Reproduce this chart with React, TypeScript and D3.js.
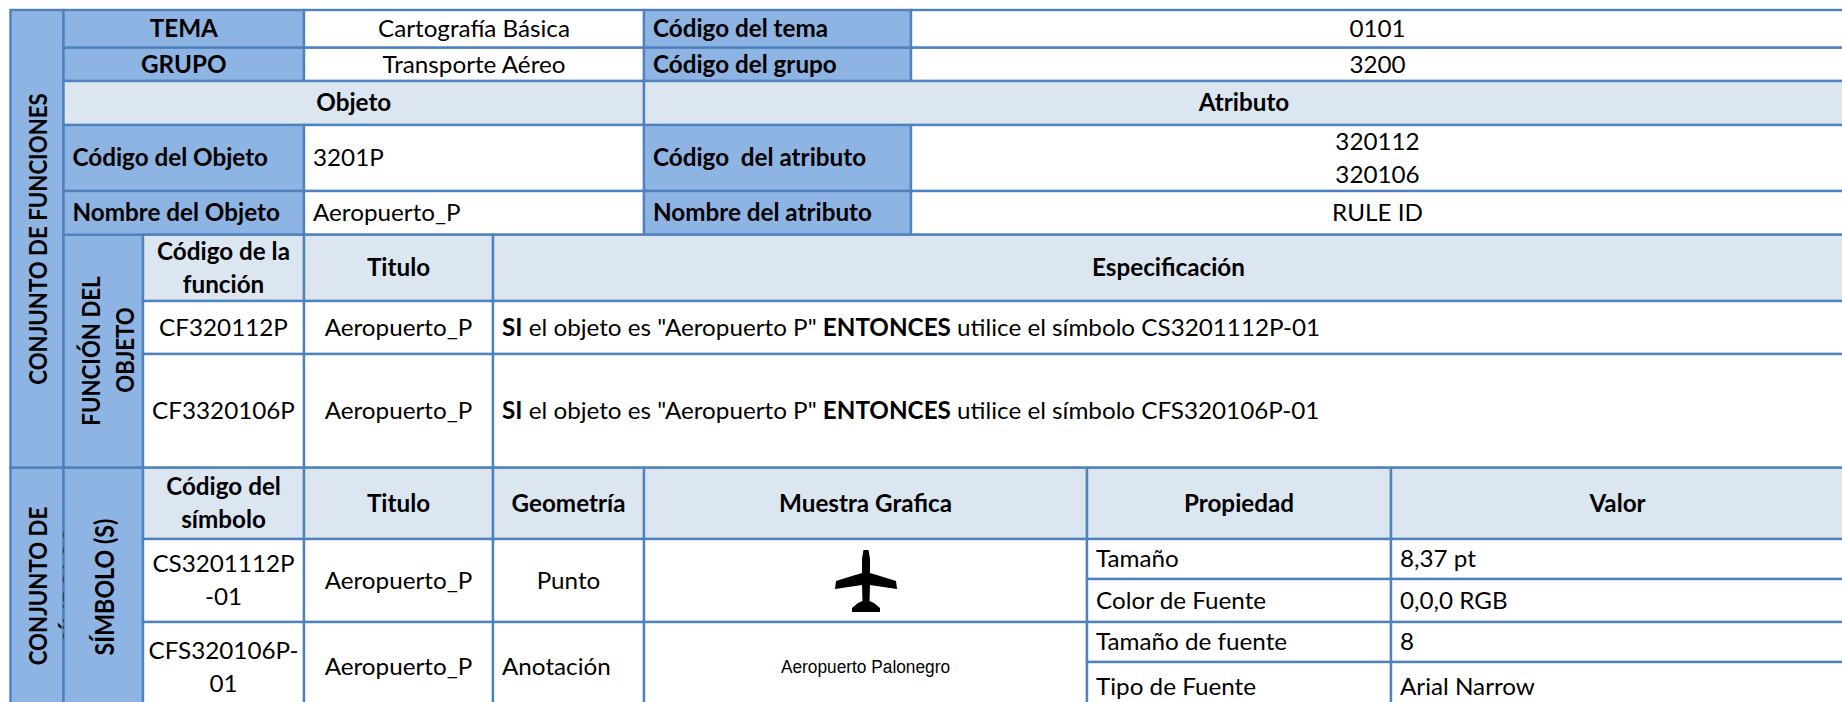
import React from "react";
import * as d3 from "d3";

const W = 1842, H = 702;
const BLUE = "#8EB4E3", LIGHT = "#DCE6F1", LINE = "#4F81BD";
const FONT = "Lato, Carlito, sans-serif";

// text content
const temaLabels = ["TEMA", "GRUPO"];
const temaValues = ["Cartografía Básica", "Transporte Aéreo"];
const codeLabels = ["Código del tema", "Código del grupo"];
const codeValues = ["0101", "3200"];
const sectionHeads = ["Objeto", "Atributo"];
const objectLabels = ["Código del Objeto", "Nombre del Objeto"];
const objectValues = ["3201P", "Aeropuerto_P"];
const attrLabels = ["Código  del atributo", "Nombre del atributo"];
const attrCodes = ["320112", "320106"];
const attrName = "RULE ID";
const funcHeads = [["Código de la", "función"], ["Titulo"], ["Especificación"]];
const funcCodes = ["CF320112P", "CF3320106P"];
const funcTitle = "Aeropuerto_P";
const funcSymbols = ["CS3201112P-01", "CFS320106P-01"];
const symHeads = [["Código del", "símbolo"], ["Titulo"], ["Geometría"], ["Muestra Grafica"], ["Propiedad"], ["Valor"]];
const symCodes = [["CS3201112P", "-01"], ["CFS320106P-", "01"]];
const symGeoms = ["Punto", "Anotación"];
const sampleLabel = "Aeropuerto Palonegro";
const propNames = ["Tamaño", "Color de Fuente", "Tamaño de fuente", "Tipo de Fuente"];
const propValues = ["8,37 pt", "0,0,0 RGB", "8", "Arial Narrow"];

// grid
const colKeys = ["a", "b", "c", "d", "e", "f", "g", "h", "i", "j"];
const colEdges = [10.5, 63.5, 143, 304, 493, 644, 911, 1087, 1391, W + 2];
const rowKeys = ["r0", "r1", "r2", "r3", "r4", "r5", "r6", "r7", "r8", "r9", "r10", "r11", "r12", "r13"];
const rowEdges = [10, 47.7, 81, 125, 191, 234.7, 301, 354, 467.7, 539, 579, 622, 662, 712];
const X = d3.scaleOrdinal<string, number>().domain(colKeys).range(colEdges);
const Y = d3.scaleOrdinal<string, number>().domain(rowKeys).range(rowEdges);
const LH = 33;
const SIZE = 24, SX = 1.01;

type T = { lines: string[]; bold?: boolean; align?: "c" | "l"; size?: number; fam?: string; sx?: number };

function Cell({ c0, c1, r0, r1, fill, t }: { c0: string; c1: string; r0: string; r1: string; fill?: string; t?: T }) {
  const x0 = X(c0), x1 = X(c1), y0 = Y(r0), y1 = Y(r1);
  const cy = (Math.min(y1, H + 40) + y0) / 2;
  const size = t?.size ?? SIZE;
  const sx = t?.sx ?? SX;
  const n = t?.lines.length ?? 0;
  const tx = t?.align === "l" ? x0 + 9 : (x0 + x1) / 2;
  return (
    <g>
      <rect x={x0} y={y0} width={x1 - x0} height={y1 - y0} fill={fill ?? "#fff"} stroke={LINE} strokeWidth={2.4} />
      {t?.lines.map((l, i) => (
        <text key={i} transform={`translate(${tx},${cy + (i - (n - 1) / 2) * LH + size * 0.34}) scale(${sx},1)`}
          textAnchor={t.align === "l" ? "start" : "middle"} fontFamily={t.fam ?? FONT} fontSize={size}
          fontWeight={t.bold ? 700 : 400} fill="#000" xmlSpace="preserve">{l}</text>
      ))}
    </g>
  );
}

function RunText({ x, y, parts }: { x: number; y: number; parts: [string, boolean][] }) {
  return (
    <text transform={`translate(${x},${y}) scale(${SX},1)`} fontFamily={FONT} fontSize={SIZE} fill="#000">
      {parts.map(([s, b], i) => <tspan key={i} fontWeight={b ? 700 : 400}>{s}</tspan>)}
    </text>
  );
}

function Vert({ x, y, text, size = 23 }: { x: number; y: number; text: string; size?: number }) {
  return (
    <text transform={`translate(${x},${y}) rotate(-90) scale(0.967,1.09)`} textAnchor="middle" dominantBaseline="central"
      fontFamily={FONT} fontSize={size} fontWeight={700} fill="#000">{text}</text>
  );
}

const planeLine = d3.line<[number, number]>().curve(d3.curveLinearClosed);
const planeShape: [number, number][] = [
  [-2.5, -31], [2.5, -31], [4, -22], [4, -8], [14, -5], [30, 0], [31, 8], [14, 5.5], [4, 4], [3.5, 20],
  [8, 22], [14, 27], [14, 31],
  [-14, 31], [-14, 27], [-8, 22], [-3.5, 20], [-4, 4], [-14, 5.5], [-31, 8], [-30, 0], [-14, -5], [-4, -8], [-4, -22],
];

export default function App() {
  const bl = (s: string): T => ({ lines: [s], bold: true });
  const bll = (s: string): T => ({ lines: [s], bold: true, align: "l" });
  const pl = (s: string): T => ({ lines: [s] });
  const ll = (s: string): T => ({ lines: [s], align: "l" });
  return (
    <svg width={W} height={H} style={{ position: "absolute", left: 0, top: 0 }}>
      <defs>
        <clipPath id="lowerLeft"><rect x={X("a")} y={Y("r8")} width={X("b") - X("a")} height={H} /></clipPath>
        <filter id="soft"><feGaussianBlur stdDeviation={0.7} /></filter>
      </defs>
      <rect width={W} height={H} fill="#fff" />

      <Cell c0="a" c1="b" r0="r0" r1="r8" fill={BLUE} />
      <Cell c0="a" c1="b" r0="r8" r1="r13" fill={BLUE} />
      <Cell c0="b" c1="c" r0="r5" r1="r8" fill={BLUE} />
      <Cell c0="b" c1="c" r0="r8" r1="r13" fill={BLUE} />

      {temaLabels.map((s, i) => (
        <g key={s}>
          <Cell c0="b" c1="d" r0={rowKeys[i]} r1={rowKeys[i + 1]} fill={BLUE} t={bl(s)} />
          <Cell c0="d" c1="f" r0={rowKeys[i]} r1={rowKeys[i + 1]} t={pl(temaValues[i])} />
          <Cell c0="f" c1="g" r0={rowKeys[i]} r1={rowKeys[i + 1]} fill={BLUE} t={bll(codeLabels[i])} />
          <Cell c0="g" c1="j" r0={rowKeys[i]} r1={rowKeys[i + 1]} t={pl(codeValues[i])} />
        </g>
      ))}
      <Cell c0="b" c1="f" r0="r2" r1="r3" fill={LIGHT} t={bl(sectionHeads[0])} />
      <Cell c0="f" c1="j" r0="r2" r1="r3" fill={LIGHT} t={bl(sectionHeads[1])} />

      <Cell c0="b" c1="d" r0="r3" r1="r4" fill={BLUE} t={bll(objectLabels[0])} />
      <Cell c0="d" c1="f" r0="r3" r1="r4" t={ll(objectValues[0])} />
      <Cell c0="f" c1="g" r0="r3" r1="r4" fill={BLUE} t={bll(attrLabels[0])} />
      <Cell c0="g" c1="j" r0="r3" r1="r4" t={{ lines: attrCodes }} />
      <Cell c0="b" c1="d" r0="r4" r1="r5" fill={BLUE} t={bll(objectLabels[1])} />
      <Cell c0="d" c1="f" r0="r4" r1="r5" t={ll(objectValues[1])} />
      <Cell c0="f" c1="g" r0="r4" r1="r5" fill={BLUE} t={bll(attrLabels[1])} />
      <Cell c0="g" c1="j" r0="r4" r1="r5" t={pl(attrName)} />

      <Cell c0="c" c1="d" r0="r5" r1="r6" fill={LIGHT} t={{ lines: funcHeads[0], bold: true }} />
      <Cell c0="d" c1="e" r0="r5" r1="r6" fill={LIGHT} t={{ lines: funcHeads[1], bold: true }} />
      <Cell c0="e" c1="j" r0="r5" r1="r6" fill={LIGHT} t={{ lines: funcHeads[2], bold: true }} />
      {funcCodes.map((s, i) => {
        const r0 = rowKeys[6 + i], r1 = rowKeys[7 + i];
        const cy = (Y(r0) + Y(r1)) / 2 + SIZE * 0.34;
        return (
          <g key={s}>
            <Cell c0="c" c1="d" r0={r0} r1={r1} t={pl(s)} />
            <Cell c0="d" c1="e" r0={r0} r1={r1} t={pl(funcTitle)} />
            <Cell c0="e" c1="j" r0={r0} r1={r1} />
            <RunText x={X("e") + 9} y={cy} parts={[
              ["SI", true], [' el objeto es "Aeropuerto P" ', false], ["ENTONCES", true],
              [" utilice el símbolo " + funcSymbols[i], false],
            ]} />
          </g>
        );
      })}

      <Cell c0="c" c1="d" r0="r8" r1="r9" fill={LIGHT} t={{ lines: symHeads[0], bold: true }} />
      <Cell c0="d" c1="e" r0="r8" r1="r9" fill={LIGHT} t={{ lines: symHeads[1], bold: true }} />
      <Cell c0="e" c1="f" r0="r8" r1="r9" fill={LIGHT} t={{ lines: symHeads[2], bold: true }} />
      <Cell c0="f" c1="h" r0="r8" r1="r9" fill={LIGHT} t={{ lines: symHeads[3], bold: true }} />
      <Cell c0="h" c1="i" r0="r8" r1="r9" fill={LIGHT} t={{ lines: symHeads[4], bold: true }} />
      <Cell c0="i" c1="j" r0="r8" r1="r9" fill={LIGHT} t={{ lines: symHeads[5], bold: true }} />

      {symCodes.map((lines, i) => {
        const r0 = rowKeys[9 + i * 2], r1 = rowKeys[11 + i * 2];
        return (
          <g key={i}>
            <Cell c0="c" c1="d" r0={r0} r1={r1} t={{ lines }} />
            <Cell c0="d" c1="e" r0={r0} r1={r1} t={pl(funcTitle)} />
            <Cell c0="e" c1="f" r0={r0} r1={r1} t={i === 0 ? pl(symGeoms[i]) : ll(symGeoms[i])} />
            <Cell c0="f" c1="h" r0={r0} r1={r1}
              t={i === 1 ? { lines: [sampleLabel], size: 19, sx: 0.91, fam: "'Liberation Sans'" } : undefined} />
          </g>
        );
      })}
      <path d={planeLine(planeShape) ?? ""} transform={`translate(${(X("f") + X("h")) / 2 + 0.5},${(Y("r9") + Y("r11")) / 2 + 0.5})`}
        fill="#000" filter="url(#soft)" />

      {propNames.map((s, i) => (
        <g key={s}>
          <Cell c0="h" c1="i" r0={rowKeys[9 + i]} r1={rowKeys[10 + i]} t={ll(s)} />
          <Cell c0="i" c1="j" r0={rowKeys[9 + i]} r1={rowKeys[10 + i]} t={ll(propValues[i])} />
        </g>
      ))}

      <Vert x={37.5} y={239} text="CONJUNTO DE FUNCIONES" />
      <Vert x={90} y={351} text="FUNCIÓN DEL" />
      <Vert x={124} y={350} text="OBJETO" />
      <Vert x={37.5} y={586} text="CONJUNTO DE" />
      <g clipPath="url(#lowerLeft)"><Vert x={71} y={586} text="SÍMBOLOS" /></g>
      <Vert x={103.5} y={587} text="SÍMBOLO (S)" size={24} />
    </svg>
  );
}
